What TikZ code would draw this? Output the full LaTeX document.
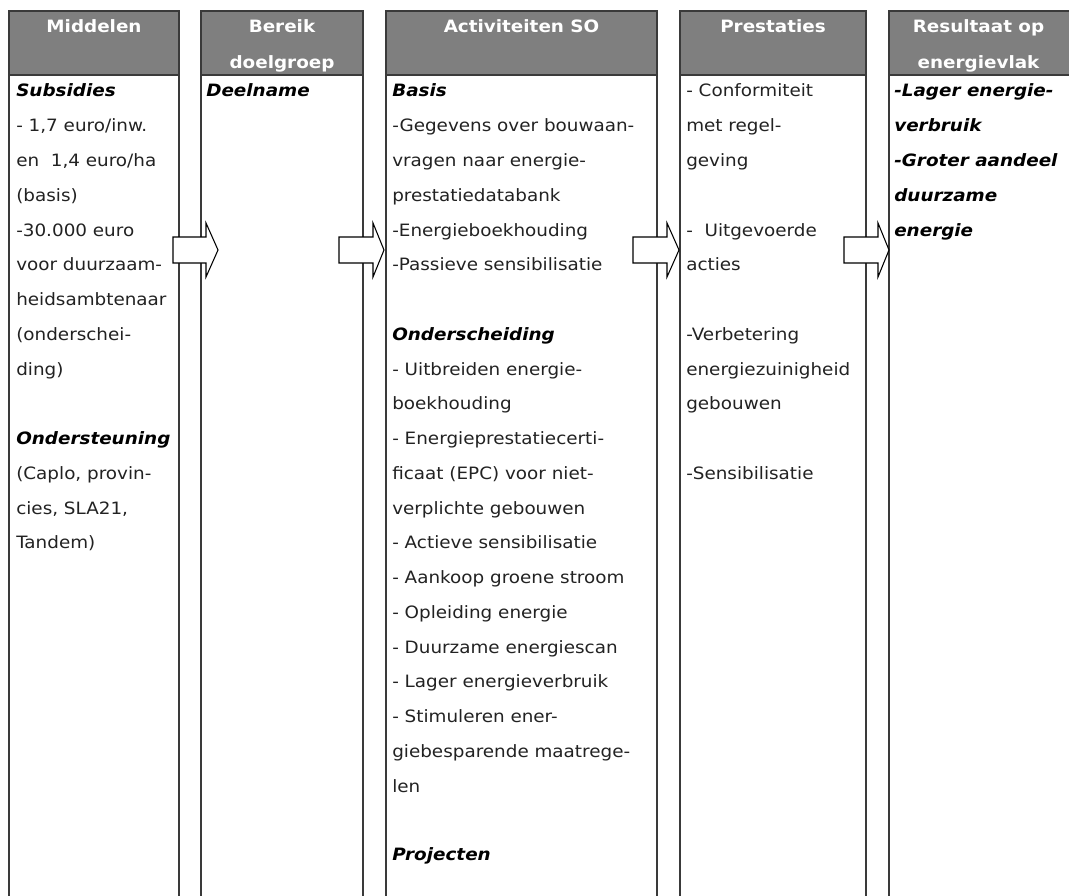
\documentclass[tikz,border=0pt]{standalone}
\usepackage{fontspec}
\setmainfont{DejaVu Sans}[FakeStretch=1.08,BoldFont={DejaVu Sans Bold},ItalicFont={DejaVu Sans Oblique},BoldItalicFont={DejaVu Sans Bold Oblique}]
\definecolor{hdrgray}{HTML}{7F7F7F}
\definecolor{linegray}{HTML}{3A3A3A}
\definecolor{txtcol}{HTML}{222222}
\tikzset{
  colbox/.style={draw=linegray, line width=0.9pt, fill=white},
  hdrbox/.style={draw=linegray, line width=0.9pt, fill=hdrgray},
  txt/.style={anchor=base west, inner sep=0pt, text=txtcol, font=\fontsize{12.75}{15}\selectfont},
  bi/.style={anchor=base west, inner sep=0pt, text=black, font=\fontsize{12.75}{15}\selectfont\bfseries\itshape},
  htxt/.style={anchor=base, inner sep=0pt, text=white, font=\fontsize{12.75}{15}\selectfont\bfseries},
  barrow/.style={draw=black, line width=0.8pt, fill=white, line join=miter},
}
\def\by#1{97+34.75*#1}
\begin{document}
\begin{tikzpicture}[x=0.75pt,y=-0.75pt]
\clip (0,0) rectangle (1069,895);
\fill[white] (0,0) rectangle (1069,895);
% columns
\draw[colbox] (9,75) rectangle (179,910);
\draw[hdrbox] (9,11) rectangle (179,75);
\draw[colbox] (201,75) rectangle (363,910);
\draw[hdrbox] (201,11) rectangle (363,75);
\draw[colbox] (386,75) rectangle (657,910);
\draw[hdrbox] (386,11) rectangle (657,75);
\draw[colbox] (680,75) rectangle (866,910);
\draw[hdrbox] (680,11) rectangle (866,75);
\draw[colbox] (889,75) rectangle (1075,910);
\draw[hdrbox] (889,11) rectangle (1075,75);
% headers
\node[htxt] (h1) at (94,33) {Middelen};
\node[htxt] (h2a) at (282,33) {Bereik};
\node[htxt] (h2b) at (282,69) {doelgroep};
\node[htxt] (h3) at (521.5,33) {Activiteiten SO};
\node[htxt] (h4) at (773,33) {Prestaties};
\node[htxt] (h5a) at (978.5,33) {Resultaat op};
\node[htxt] (h5b) at (978.5,69) {energievlak};
% column 1
\node[bi]  (a0) at (16,{\by{0}}) {Subsidies};
\node[txt] (a1) at (16,{\by{1}}) {- 1,7 euro/inw.};
\node[txt] (a2) at (16,{\by{2}}) {en~~1,4 euro/ha};
\node[txt] (a3) at (16,{\by{3}}) {(basis)};
\node[txt] (a4) at (16,{\by{4}}) {-30.000 euro};
\node[txt] (a5) at (16,{\by{5}}) {voor duurzaam-};
\node[txt] (a6) at (16,{\by{6}}) {heidsambtenaar};
\node[txt] (a7) at (16,{\by{7}}) {(onderschei-};
\node[txt] (a8) at (16,{\by{8}}) {ding)};
\node[bi]  (a10) at (16,{\by{10}}) {Ondersteuning};
\node[txt] (a11) at (16,{\by{11}}) {(Caplo, provin-};
\node[txt] (a12) at (16,{\by{12}}) {cies, SLA21,};
\node[txt] (a13) at (16,{\by{13}}) {Tandem)};
% column 2
\node[bi] (b0) at (206,{\by{0}}) {Deelname};
% column 3
\node[bi]  (c0) at (392,{\by{0}}) {Basis};
\node[txt] (c1) at (392,{\by{1}}) {-Gegevens over bouwaan-};
\node[txt] (c2) at (392,{\by{2}}) {vragen naar energie-};
\node[txt] (c3) at (392,{\by{3}}) {prestatiedatabank};
\node[txt] (c4) at (392,{\by{4}}) {-Energieboekhouding};
\node[txt] (c5) at (392,{\by{5}}) {-Passieve sensibilisatie};
\node[bi]  (c7) at (392,{\by{7}}) {Onderscheiding};
\node[txt] (c8) at (392,{\by{8}}) {- Uitbreiden energie-};
\node[txt] (c9) at (392,{\by{9}}) {boekhouding};
\node[txt] (c10) at (392,{\by{10}}) {- Energieprestatiecerti-};
\node[txt] (c11) at (392,{\by{11}}) {ficaat (EPC) voor niet-};
\node[txt] (c12) at (392,{\by{12}}) {verplichte gebouwen};
\node[txt] (c13) at (392,{\by{13}}) {- Actieve sensibilisatie};
\node[txt] (c14) at (392,{\by{14}}) {- Aankoop groene stroom};
\node[txt] (c15) at (392,{\by{15}}) {- Opleiding energie};
\node[txt] (c16) at (392,{\by{16}}) {- Duurzame energiescan};
\node[txt] (c17) at (392,{\by{17}}) {- Lager energieverbruik};
\node[txt] (c18) at (392,{\by{18}}) {- Stimuleren ener-};
\node[txt] (c19) at (392,{\by{19}}) {giebesparende maatrege-};
\node[txt] (c20) at (392,{\by{20}}) {len};
\node[bi]  (c22) at (392,860) {Projecten};
% column 4
\node[txt] (d0) at (686,{\by{0}}) {- Conformiteit};
\node[txt] (d1) at (686,{\by{1}}) {met regel-};
\node[txt] (d2) at (686,{\by{2}}) {geving};
\node[txt] (d4) at (686,{\by{4}}) {-~~Uitgevoerde};
\node[txt] (d5) at (686,{\by{5}}) {acties};
\node[txt] (d7) at (686,{\by{7}}) {-Verbetering};
\node[txt] (d8) at (686,{\by{8}}) {energiezuinigheid};
\node[txt] (d9) at (686,{\by{9}}) {gebouwen};
\node[txt] (d11) at (686,{\by{11}}) {-Sensibilisatie};
% column 5
\node[bi] (e0) at (894,{\by{0}}) {-Lager energie-};
\node[bi] (e1) at (894,{\by{1}}) {verbruik};
\node[bi] (e2) at (894,{\by{2}}) {-Groter aandeel};
\node[bi] (e3) at (894,{\by{3}}) {duurzame};
\node[bi] (e4) at (894,{\by{4}}) {energie};
% block arrows
\draw[barrow] (173,237) -- (206,237) -- (206,223) -- (218,250) -- (206,277) -- (206,263) -- (173,263) -- cycle;
\draw[barrow] (339,237) -- (373,237) -- (373,223) -- (384,250) -- (373,277) -- (373,263) -- (339,263) -- cycle;
\draw[barrow] (633,237) -- (667,237) -- (667,223) -- (679,250) -- (667,277) -- (667,263) -- (633,263) -- cycle;
\draw[barrow] (844,237) -- (878,237) -- (878,223) -- (889,250) -- (878,277) -- (878,263) -- (844,263) -- cycle;
\end{tikzpicture}
\end{document}
